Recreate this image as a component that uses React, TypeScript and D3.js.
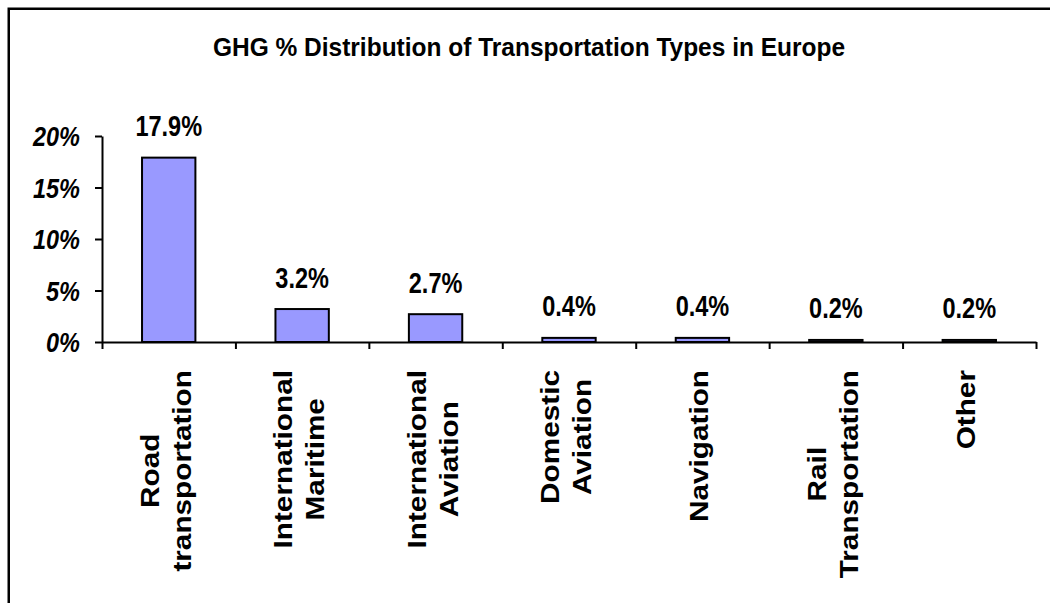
import React, { useEffect, useRef } from "react";
import * as d3 from "d3";

// chart data
const title = "GHG % Distribution of Transportation Types in Europe";
const categories = [
  "Road transportation",
  "International Maritime",
  "International Aviation",
  "Domestic Aviation",
  "Navigation",
  "Rail Transportation",
  "Other",
];
const values = [17.9, 3.2, 2.7, 0.4, 0.4, 0.2, 0.2];
const yTicks = [0, 5, 10, 15, 20];

const width = 1050;
const height = 603;
const plot = { left: 102, right: 1036, top: 136, bottom: 342 };
const font = "Arial, 'Liberation Sans', sans-serif";

const App = () => {
  const ref = useRef<SVGSVGElement>(null);

  useEffect(() => {
    const svg = d3.select(ref.current);
    svg.selectAll("*").remove();

    const x = d3
      .scaleBand<string>()
      .domain(categories)
      .range([plot.left, plot.right])
      .paddingInner(0.6)
      .paddingOuter(0.3);
    const y = d3.scaleLinear().domain([0, 20]).range([plot.bottom, plot.top]);
    // boundaries between the categories
    const xEdge = d3
      .scaleLinear()
      .domain([0, categories.length])
      .range([plot.left, plot.right]);

    // outer frame: only the left and top edges are in view
    svg
      .append("path")
      .attr("d", `M8.75,${height + 20}V8.75H${width + 20}`)
      .attr("fill", "none")
      .attr("stroke", "#000")
      .attr("stroke-width", 2.5);

    svg
      .append("text")
      .attr("transform", "translate(529,56) scale(1,1.08)")
      .attr("text-anchor", "middle")
      .style("font-family", font)
      .style("font-weight", "bold")
      .style("font-size", "24.5px")
      .text(title);

    // bars
    svg
      .append("g")
      .selectAll("rect")
      .data(values)
      .join("rect")
      .attr("x", (d, i) => x(categories[i])!)
      .attr("y", (d) => y(d))
      .attr("width", x.bandwidth())
      .attr("height", (d) => y(0) - y(d))
      .attr("fill", "#9999FF")
      .attr("stroke", "#000")
      .attr("stroke-width", 2);

    // value labels
    svg
      .append("g")
      .selectAll("text")
      .data(values)
      .join("text")
      .attr(
        "transform",
        (d, i) =>
          `translate(${x(categories[i])! + x.bandwidth() / 2},${y(d) - 21.5}) scale(1,1.25)`
      )
      .attr("text-anchor", "middle")
      .style("font-family", font)
      .style("font-weight", "bold")
      .style("font-size", "23.5px")
      .text((d) => d.toFixed(1) + "%");

    // y axis
    const gy = svg
      .append("g")
      .attr("transform", `translate(${plot.left},0)`)
      .call(
        d3
          .axisLeft(y)
          .tickValues(yTicks)
          .tickSize(7)
          .tickSizeOuter(0)
          .tickFormat((d) => d + "%")
      );
    gy.selectAll("path, line").attr("stroke", "#000").attr("stroke-width", 2);
    gy.selectAll(".tick text")
      .attr("x", -22)
      .attr("dy", "0.36em")
      .attr("transform", "scale(1,1.15)")
      .attr("fill", "#000")
      .style("font-family", font)
      .style("font-weight", "bold")
      .style("font-style", "italic")
      .style("font-size", "23.5px");

    // x axis with ticks between categories
    const gx = svg
      .append("g")
      .attr("transform", `translate(0,${plot.bottom})`)
      .call(
        d3
          .axisBottom(xEdge)
          .tickValues(d3.range(categories.length + 1))
          .tickSize(7)
          .tickSizeOuter(0)
          .tickFormat(() => "")
      );
    gx.selectAll("path, line").attr("stroke", "#000").attr("stroke-width", 2);

    // rotated category labels
    const k = 1.19;
    categories.forEach((c) => {
      const lines = c.split(" ");
      const cx = x(c)! + x.bandwidth() / 2;
      const texts = lines.map((ln) =>
        svg
          .append("text")
          .attr("text-anchor", "middle")
          .style("font-family", font)
          .style("font-weight", "bold")
          .style("font-size", "25px")
          .text(ln)
      );
      const maxLen =
        d3.max(texts, (t) => (t.node() as SVGTextElement).getComputedTextLength()) || 0;
      const cy = 370 + (maxLen * k) / 2;
      texts.forEach((t, i) => {
        const bx = cx + (i - (lines.length - 1) / 2) * 32 + 6;
        t.attr("transform", `translate(${bx},${cy}) scale(1,${k}) rotate(-90)`);
      });
    });
  }, []);

  return (
    <svg
      ref={ref}
      width={width}
      height={height}
      style={{ position: "absolute", left: 0, top: 0, background: "#fff" }}
    />
  );
};

export default App;
